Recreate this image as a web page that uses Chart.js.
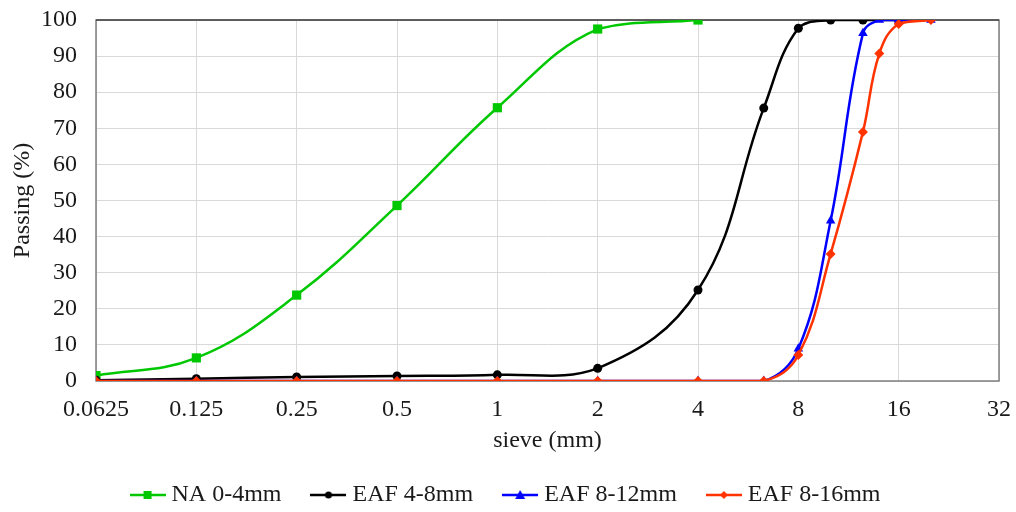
<!DOCTYPE html>
<html>
<head>
<meta charset="utf-8">
<script src="https://cdn.jsdelivr.net/npm/chart.js@4"></script>
<style>
  html, body { margin: 0; padding: 0; background: #fff; }
  #wrap { width: 1016px; height: 512px; position: relative; }
</style>
</head>
<body>
<div id="wrap"><canvas id="chart"></canvas></div>
<script>
// sieve sizes (mm) and passing (%) per grading curve
const xTicks = [0.0625, 0.125, 0.25, 0.5, 1, 2, 4, 8, 16, 32];

const naSieve = [0.0625, 0.125, 0.25, 0.5, 1, 2, 4];
const naPassing = [1.5, 6.4, 23.8, 48.6, 75.7, 97.5, 100];

const eaf48Sieve = [0.0625, 0.125, 0.25, 0.5, 1, 2, 4, 6.3, 8, 10, 12.5, 16];
const eaf48Passing = [0.2, 0.65, 1.1, 1.4, 1.7, 3.5, 25.2, 75.6, 97.7, 100, 100, 100];

const eaf812Sieve = [0.0625, 0.125, 0.25, 0.5, 1, 2, 4, 6.3, 8, 10, 12.5, 14, 16, 20];
const eaf812Passing = [0, 0, 0, 0, 0, 0, 0, 0, 8.9, 44.4, 96.3, 100, 100, 100];

const eaf816Sieve = [0.0625, 0.125, 0.25, 0.5, 1, 2, 4, 6.3, 8, 10, 12.5, 14, 16, 20];
const eaf816Passing = [0, 0, 0, 0, 0, 0, 0, 0, 7.2, 35.2, 69, 90.7, 98.9, 100];

const pts = (xs, ys) => xs.map((x, i) => ({ x, y: ys[i] }));

const FONT = "'Liberation Serif', 'Times New Roman', serif";
const TEXT = '#1a1a1a';

// little line+marker icons for the legend
function legendIcon(color, style) {
  const c = document.createElement('canvas');
  c.width = 36; c.height = 14;
  const g = c.getContext('2d');
  g.strokeStyle = color; g.fillStyle = color; g.lineWidth = 2.5;
  g.beginPath(); g.moveTo(0, 7); g.lineTo(36, 7); g.stroke();
  g.beginPath();
  if (style === 'rect') g.rect(14, 3, 8, 8);
  else if (style === 'circle') g.arc(18, 7, 3.5, 0, Math.PI * 2);
  else if (style === 'triangle') { g.moveTo(18, 2); g.lineTo(23, 11); g.lineTo(13, 11); g.closePath(); }
  else { g.moveTo(18, 3); g.lineTo(22, 7); g.lineTo(18, 11); g.lineTo(14, 7); g.closePath(); }
  g.fill();
  return c;
}

const series = [
  { label: 'NA 0-4mm', data: pts(naSieve, naPassing), color: '#00c800', style: 'rect', radius: 6.5, order: 3 },
  { label: 'EAF 4-8mm', data: pts(eaf48Sieve, eaf48Passing), color: '#000000', style: 'circle', radius: 4.5, order: 2 },
  { label: 'EAF 8-12mm', data: pts(eaf812Sieve, eaf812Passing), color: '#0000ff', style: 'triangle', radius: 5.5, order: 1 },
  { label: 'EAF 8-16mm', data: pts(eaf816Sieve, eaf816Passing), color: '#ff3300', style: 'rectRot', radius: 5, order: 0 },
];
const icons = series.map(s => legendIcon(s.color, s.style));

// plot frame: grey box, darker top edge
const frame = {
  id: 'frame',
  beforeDatasetsDraw(chart) {
    const { ctx, chartArea: a } = chart;
    ctx.save();
    ctx.strokeStyle = '#7f7f7f'; ctx.lineWidth = 1.5;
    ctx.strokeRect(a.left, a.top, a.right - a.left, a.bottom - a.top);
    ctx.strokeStyle = '#222'; ctx.lineWidth = 1.2;
    ctx.beginPath(); ctx.moveTo(a.left, a.top); ctx.lineTo(a.right, a.top); ctx.stroke();
    ctx.restore();
  }
};

new Chart(document.getElementById('chart'), {
  type: 'line',
  data: {
    datasets: series.map(s => ({
      label: s.label,
      data: s.data,
      borderColor: s.color,
      backgroundColor: s.color,
      pointBackgroundColor: s.color,
      pointBorderColor: s.color,
      pointStyle: s.style,
      pointRadius: s.radius,
      pointBorderWidth: 0,
      borderWidth: 2.5,
      tension: 0.4,
      fill: false,
      order: s.order,
    }))
  },
  options: {
    responsive: true,
    maintainAspectRatio: false,
    animation: false,
    layout: { padding: { left: 0, right: 0, top: 20, bottom: -5 } },
    scales: {
      x: {
        type: 'logarithmic',
        min: 0.0625,
        max: 32,
        afterBuildTicks: scale => { scale.ticks = xTicks.map(v => ({ value: v })); },
        afterFit: scale => { scale.height = 67; scale.paddingLeft = 0; scale.paddingRight = 17; },
        ticks: {
          autoSkip: false, maxRotation: 0, padding: 14,
          color: TEXT, font: { family: FONT, size: 24 },
          callback: v => String(v),
        },
        grid: { color: '#d9d9d9', lineWidth: 1, drawTicks: false },
        border: { display: false },
        title: { display: true, text: 'sieve (mm)', color: TEXT, font: { family: FONT, size: 24 }, padding: { top: 0, bottom: -7 } },
      },
      y: {
        min: 0,
        max: 100,
        afterFit: scale => { scale.width = 96; scale.paddingTop = 0; scale.paddingBottom = 0; },
        ticks: { stepSize: 10, padding: 19, color: TEXT, font: { family: FONT, size: 24 } },
        grid: { color: '#d9d9d9', lineWidth: 1, drawTicks: false },
        border: { display: false },
        title: { display: true, text: 'Passing (%)', color: TEXT, font: { family: FONT, size: 24 }, padding: { top: 8, bottom: 0 } },
      }
    },
    plugins: {
      legend: {
        position: 'bottom',
        labels: {
          usePointStyle: true,
          pointStyleWidth: 24,
          padding: 35,
          color: TEXT,
          font: { family: FONT, size: 24 },
          generateLabels: chart => chart.data.datasets.map((ds, i) => ({
            text: ds.label,
            pointStyle: icons[i],
            fillStyle: ds.borderColor,
            strokeStyle: ds.borderColor,
            lineWidth: 0,
            hidden: false,
            datasetIndex: i,
            fontColor: TEXT,
          })),
        },
      },
      tooltip: { enabled: false },
    }
  },
  plugins: [frame]
});
</script>
</body>
</html>
